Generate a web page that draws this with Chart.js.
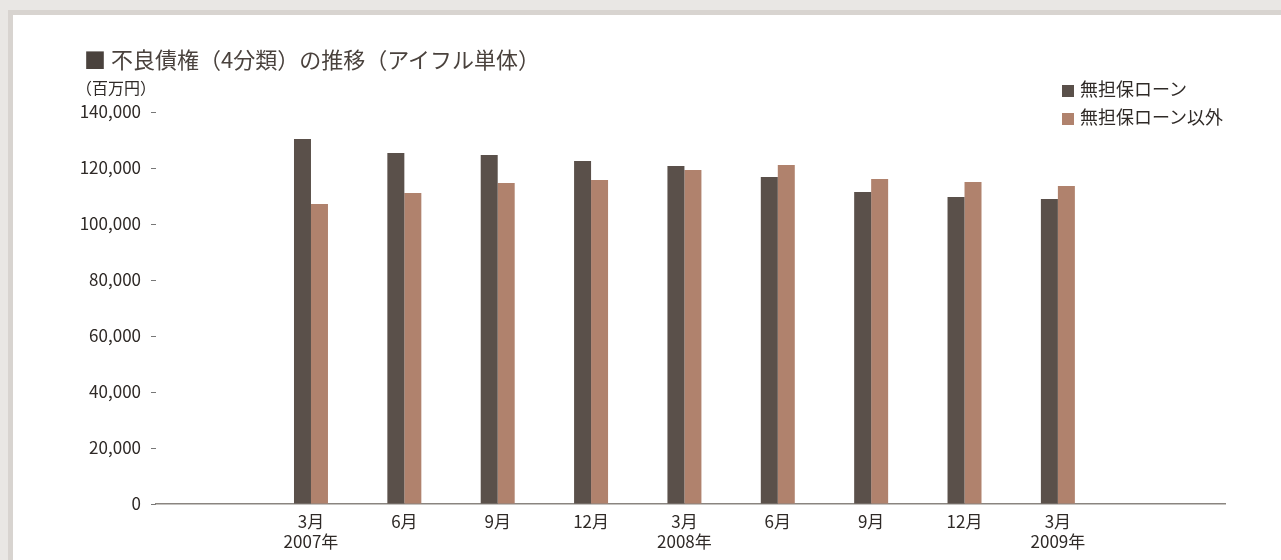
<!DOCTYPE html>
<html lang="ja">
<head>
<meta charset="utf-8">
<title>不良債権（4分類）の推移</title>
<script src="https://cdn.jsdelivr.net/npm/chart.js@4.4.1/dist/chart.umd.min.js"></script>
<style>
  html, body { margin: 0; padding: 0; }
  body {
    width: 1281px; height: 560px; overflow: hidden; position: relative;
    background: #e9e7e4;
    font-family: "Noto Sans CJK JP", "Noto Sans", sans-serif;
  }
  .frame {
    position: absolute; left: 8px; top: 10px; right: -10px; bottom: -10px;
    background: #d8d4d0;
  }
  .panel {
    position: absolute; left: 13px; top: 15px; right: -10px; bottom: -10px;
    background: #fff;
  }
  #chart { position: absolute; left: 0; top: 0; }
  .title {
    position: absolute; left: 84px; top: 43px;
    font-size: 22px; line-height: 30px; color: #4a423d; white-space: nowrap;
  }
  .unit {
    position: absolute; left: 76px; top: 77px;
    font-size: 16px; line-height: 20px; color: #2f2a27;
  }
  .legend { position: absolute; left: 1062px; top: 75px; }
  .legend div {
    font-size: 18px; line-height: 26px; height: 28px; color: #2f2a27;
    white-space: nowrap;
  }
  .legend span {
    display: inline-block; width: 12px; height: 12px; margin-right: 6px;
    vertical-align: -1px;
  }
</style>
</head>
<body>
<div class="frame"></div>
<div class="panel"></div>
<canvas id="chart" width="1281" height="560"></canvas>
<div class="title">■ 不良債権（4分類）の推移（アイフル単体）</div>
<div class="unit">（百万円）</div>
<div class="legend" id="legend"></div>
<script>
// quarter-end labels (month / year)
const quarters = [['3月', '2007年'], '6月', '9月', '12月', ['3月', '2008年'], '6月', '9月', '12月', ['3月', '2009年']];
// 百万円
const unsecuredLoans = [130400, 125400, 124600, 122500, 120700, 116800, 111400, 109600, 108900];
const otherLoans = [107100, 111100, 114600, 115700, 119300, 121100, 116100, 115000, 113600];
const seriesNames = ['無担保ローン', '無担保ローン以外'];
const seriesColors = ['#5a504a', '#b0826d'];
const yTicks = [0, 20000, 40000, 60000, 80000, 100000, 120000, 140000];

const textColor = '#2f2a27';
const font = { family: '"Noto Sans CJK JP", "Noto Sans", sans-serif', size: 17 };

// legend built from the series
const legendEl = document.getElementById('legend');
seriesNames.forEach((name, i) => {
    const row = document.createElement('div');
    row.innerHTML = '<span style="background:' + seriesColors[i] + '"></span>' + name;
    legendEl.appendChild(row);
});

const toPoints = arr => arr.map((v, i) => ({ x: i, y: v }));

new Chart(document.getElementById('chart'), {
    type: 'bar',
    data: {
        datasets: [
            { label: seriesNames[0], data: toPoints(unsecuredLoans), backgroundColor: seriesColors[0] },
            { label: seriesNames[1], data: toPoints(otherLoans), backgroundColor: seriesColors[1] }
        ]
    },
    options: {
        responsive: false,
        animation: false,
        categoryPercentage: 0.364,
        barPercentage: 1,
        layout: { padding: { top: 112, right: 56, bottom: 0, left: 0 } },
        plugins: { legend: { display: false }, tooltip: { enabled: false } },
        scales: {
            x: {
                type: 'linear',
                offset: false,
                min: -1.66,
                max: 9.79,
                afterBuildTicks: s => { s.ticks = quarters.map((_, i) => ({ value: i })); },
                afterFit: s => { s.height = 56; },
                grid: { drawOnChartArea: false, drawTicks: false, offset: false },
                border: { color: '#8a8580', width: 1.5 },
                ticks: {
                    autoSkip: false, maxRotation: 0, padding: 7,
                    color: textColor, font: font,
                    callback: v => quarters[v]
                }
            },
            y: {
                min: 0,
                max: 140000,
                afterBuildTicks: s => { s.ticks = yTicks.map(v => ({ value: v })); },
                afterFit: s => { s.width = 156; },
                grid: { drawOnChartArea: false, tickLength: 5, tickColor: '#777', tickWidth: 1 },
                border: { display: false },
                ticks: {
                    padding: 10, color: textColor, font: font,
                    callback: v => v.toLocaleString('en-US')
                }
            }
        }
    }
});
</script>
</body>
</html>
